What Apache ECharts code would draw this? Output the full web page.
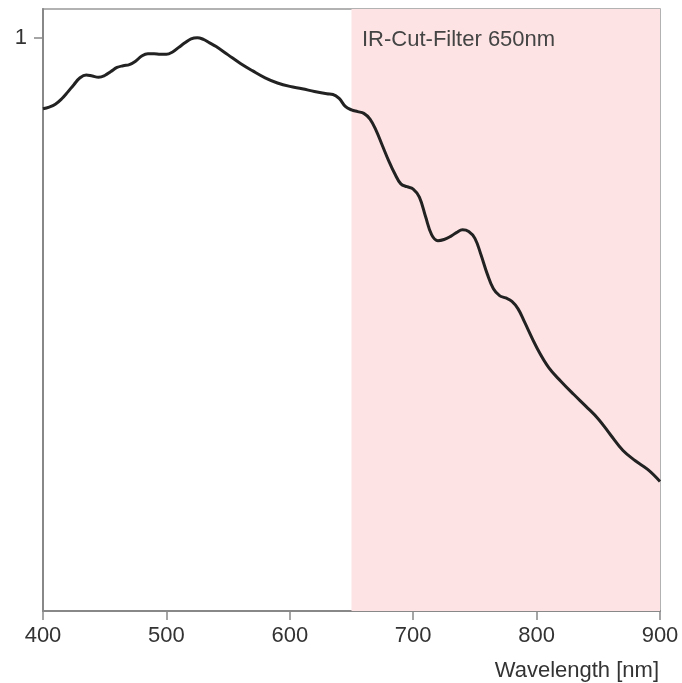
<!DOCTYPE html>
<html>
<head>
<meta charset="utf-8">
<script src="https://cdn.jsdelivr.net/npm/echarts@6/dist/echarts.min.js"></script>
<style>html,body{margin:0;padding:0;background:#fff}#c{width:682px;height:683px}</style>
</head>
<body>
<div id="c"></div>
<script>
var wavelengths = [400,405,410,415,420,425,430,435,440,445,450,455,460,465,470,475,480,485,490,495,500,505,510,515,520,525,530,535,540,550,560,570,580,590,600,610,620,630,635,640,645,650,655,660,665,670,675,680,685,690,695,700,705,710,715,720,725,730,735,740,745,750,755,760,765,770,775,780,785,790,800,810,820,830,840,850,860,870,880,890,900];
var response = [0.876,0.879,0.884,0.893,0.905,0.918,0.930,0.935,0.933,0.931,0.934,0.941,0.948,0.951,0.953,0.959,0.968,0.972,0.972,0.971,0.971,0.975,0.983,0.991,0.998,1.0,0.997,0.991,0.985,0.970,0.955,0.942,0.930,0.921,0.915,0.911,0.906,0.902,0.901,0.894,0.880,0.874,0.871,0.868,0.858,0.838,0.812,0.786,0.763,0.745,0.740,0.736,0.722,0.688,0.656,0.646,0.648,0.653,0.660,0.665,0.662,0.650,0.621,0.588,0.562,0.550,0.546,0.540,0.527,0.505,0.460,0.424,0.400,0.378,0.357,0.335,0.307,0.280,0.262,0.247,0.226];
var xTicks = [400,500,600,700,800,900];
var yTicks = [1];
var filterStart = 650, filterEnd = 900;
var filterLabel = 'IR-Cut-Filter 650nm';
var xName = 'Wavelength [nm]';

var FONT = 'Liberation Sans, Arial, sans-serif';
var data = wavelengths.map(function(w,i){return [w, response[i]];});
var chart = echarts.init(document.getElementById('c'));
chart.setOption({
  animation: false,
  grid: {left: 43, right: 22, top: 9, bottom: 72, show: true, borderColor: '#999', borderWidth: 1.5, backgroundColor: 'transparent'},
  xAxis: {
    type: 'value', min: 400, max: 900, interval: 100,
    axisLine: {show: true, lineStyle: {color: '#888', width: 2}},
    axisTick: {show: true, length: 9, lineStyle: {color: '#888', width: 1.5}, customValues: xTicks},
    axisLabel: {color: '#333', fontSize: 22, fontFamily: FONT, margin: 14, customValues: xTicks},
    splitLine: {show: false}
  },
  yAxis: {
    type: 'value', min: 0, max: 1.05,
    axisLine: {show: true, lineStyle: {color: '#888', width: 2}},
    axisTick: {show: true, length: 9, lineStyle: {color: '#888', width: 1.5}, customValues: yTicks},
    axisLabel: {color: '#333', fontSize: 22, fontFamily: FONT, margin: 16, customValues: yTicks},
    splitLine: {show: false}
  },
  graphic: [
    {type: 'text', z: 100, left: 362, top: 29, style: {text: filterLabel, fill: '#444', fontSize: 22, fontFamily: FONT}},
    {type: 'text', z: 100, right: 23, top: 660, style: {text: xName, fill: '#333', fontSize: 22, fontFamily: FONT}}
  ],
  series: [{
    type: 'line', data: data, smooth: 0.4, showSymbol: false,
    lineStyle: {color: '#222', width: 3},
    markArea: {silent: true, itemStyle: {color: '#fde3e4'}, data: [[{xAxis: filterStart}, {xAxis: filterEnd}]]},
    z: 3
  }]
});
</script>
</body>
</html>
